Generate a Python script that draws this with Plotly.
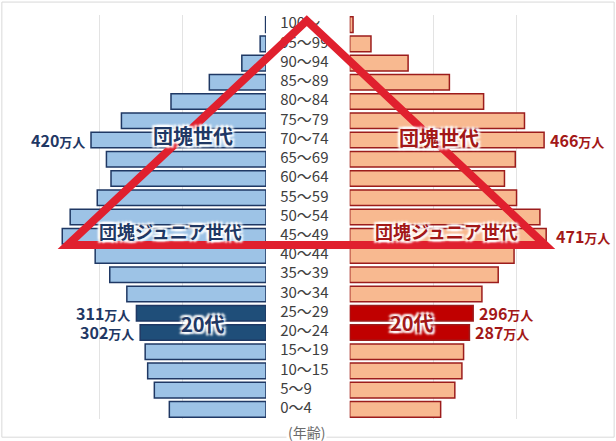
import plotly.graph_objects as go

# age groups, bottom to top
ages = ["0～4", "5～9", "10～15", "15～19", "20～24", "25～29", "30～34", "35～39",
        "40～44", "45～49", "50～54", "55～59", "60～64", "65～69", "70～74",
        "75～79", "80～84", "85～89", "90～94", "95～99", "100～"]

# population (万人)
male = [232, 268, 284, 290, 302, 311, 334, 375, 410, 489, 470,
        405, 372, 383, 420, 347, 228, 136, 58, 14, 1]
female = [218, 252, 269, 273, 287, 296, 317, 356, 394, 471, 456,
          400, 371, 397, 466, 419, 321, 239, 140, 51, 8]

twenties = ["20～24", "25～29"]

m_fill = ["#1f4e79" if a in twenties else "#9dc3e6" for a in ages]
f_fill = ["#c00000" if a in twenties else "#f8b990" for a in ages]

NAVY = "#1f3864"
RED = "#a31818"
FONT = "Noto Sans CJK JP"
GLOW = "white 2px 2px 2px, white -2px -2px 2px, white 2px -2px 2px, white -2px 2px 2px"

fig = go.Figure()
fig.add_trace(go.Bar(x=male, y=ages, orientation="h", xaxis="x", yaxis="y",
                     marker=dict(color=m_fill, line=dict(color=NAVY, width=1.5)),
                     showlegend=False))
fig.add_trace(go.Bar(x=female, y=ages, orientation="h", xaxis="x2", yaxis="y",
                     marker=dict(color=f_fill, line=dict(color="#9c1c1c", width=1.5)),
                     showlegend=False))
fig.add_trace(go.Scatter(x=[0.17] * len(ages), y=ages, mode="text", text=ages,
                         textposition="middle right", xaxis="x3", yaxis="y",
                         textfont=dict(family=FONT, size=15, color="#404040"),
                         showlegend=False))

def lab(num, x, y, xref, anchor, color, shift):
    return dict(text=f"{num}<span style='font-size:13px'>万人</span>", x=x, y=y,
                xref=xref, yref="y", xanchor=anchor, xshift=shift, showarrow=False,
                font=dict(family=FONT, size=16, color=color, weight="bold"))

def big(text, x, y, xref, color, yshift, size=20):
    return dict(text=text, x=x, y=y, xref=xref, yref="y", yshift=yshift, showarrow=False,
                font=dict(family=FONT, size=size, color=color, weight="bold", shadow=GLOW))

annotations = [
    lab(420, 420, "70～74", "x", "right", NAVY, -4),
    lab(466, 466, "70～74", "x2", "left", RED, 4),
    lab(471, 471, "45～49", "x2", "left", RED, 8),
    lab(311, 311, "25～29", "x", "right", NAVY, -4),
    lab(302, 302, "20～24", "x", "right", NAVY, -4),
    lab(296, 296, "25～29", "x2", "left", RED, 4),
    lab(287, 287, "20～24", "x2", "left", RED, 4),
    big("団塊世代", 175, "70～74", "x", NAVY, 5),
    big("団塊世代", 215, "70～74", "x2", RED, 3),
    big("団塊ジュニア世代", 228, "45～49", "x", NAVY, 5, 18),
    big("団塊ジュニア世代", 233, "45～49", "x2", RED, 5, 18),
    big("20代", 151, "20～24", "x", NAVY, 9),
    big("20代", 150, "20～24", "x2", RED, 10),
    dict(text="(年齢)", x=0.498, y=-0.032, xref="paper", yref="paper", yanchor="middle",
         showarrow=False, bgcolor="white", font=dict(family=FONT, size=14, color="#6b6b6b")),
]

fig.update_layout(
    width=616, height=441,
    margin=dict(l=0, r=0, t=15, b=22),
    paper_bgcolor="white", plot_bgcolor="white",
    bargap=0.19,
    xaxis=dict(domain=[0.026, 0.4318], range=[600, 0], showgrid=True, gridcolor="#e3e3e3",
               tickvals=[200, 400, 600], showticklabels=False, zeroline=False),
    xaxis2=dict(domain=[0.5677, 0.974], range=[0, 600], showgrid=True, gridcolor="#e3e3e3",
                tickvals=[200, 400, 600], showticklabels=False, zeroline=False),
    xaxis3=dict(domain=[0.4318, 0.5677], range=[0, 1], visible=False),
    yaxis=dict(categoryorder="array", categoryarray=ages, range=[-0.5, 20.5],
               showticklabels=False, showgrid=False, zeroline=False),
    annotations=annotations,
    shapes=[
        dict(type="rect", xref="paper", yref="paper", x0=0.003, x1=0.997, y0=-0.045, y1=1.032,
             line=dict(color="#d9d9d9", width=1), layer="below"),
        dict(type="path", xref="paper", yref="paper",
             path="M 0.11,0.431 L 0.498,0.986 L 0.885,0.431 Z",
             line=dict(color="#e0202e", width=8)),
    ],
)

# drop the page's default body margin so the figure sits at the window's corner
fig.write_html("out.html", config={"displayModeBar": False},
               post_script="document.body.style.margin='0';")
